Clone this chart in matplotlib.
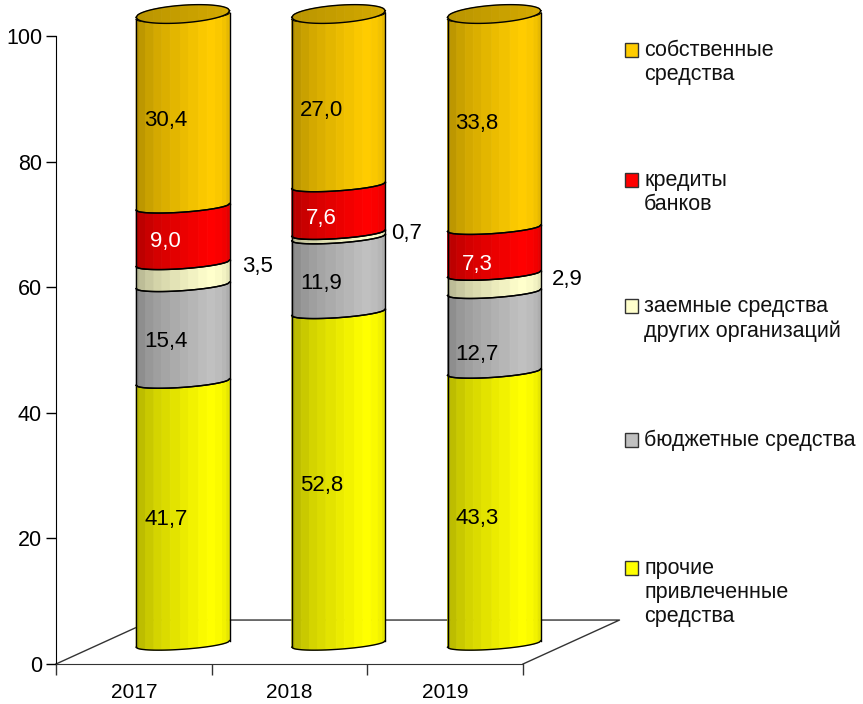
import matplotlib
matplotlib.use('Agg')
import matplotlib.pyplot as plt
import numpy as np
from matplotlib.patches import Rectangle

plt.rcParams['font.family'] = ['Liberation Sans', 'DejaVu Sans']

years = ['2017', '2018', '2019']
other = [41.7, 52.8, 43.3]
budget = [15.4, 11.9, 12.7]
loans_org = [3.5, 0.7, 2.9]
credits = [9.0, 7.6, 7.3]
own = [30.4, 27.0, 33.8]

value_labels = [['41,7', '52,8', '43,3'],
                ['15,4', '11,9', '12,7'],
                ['3,5', '0,7', '2,9'],
                ['9,0', '7,6', '7,3'],
                ['30,4', '27,0', '33,8']]

series = [other, budget, loans_org, credits, own]
colors = ['#FFFF00', '#C0C0C0', '#FFFFCC', '#FF0000', '#FFCC00']
label_colors = ['black', 'black', 'black', 'white', 'black']
legend_text = ['прочие\nпривлеченные\nсредства', 'бюджетные средства',
               'заемные средства\nдругих организаций', 'кредиты\nбанков',
               'собственные\nсредства']
legend_y = [568, 440, 306, 180, 50]

# label nudges in px (right, down), the original labels are not quite centered
label_nudge = [[(0, 1), (0, 2), (0, 5)],
               [(0, 2), (0, 3), (0, 17)],
               [(75, -7.5), (68, -2), (73, -4)],
               [(0, 1), (0, 4), (0, 8)],
               [(0, 3), (0, 4), (0, -4)]]

# cylinder geometry in data units (1 x unit = 156 px, 1 y unit = 6.28 px)
half_w = 0.30
shift_x = 0.315
shift_y = 3.2
tilt = 0.52
ell_b = 0.85
top_b = 1.4
band_edges = np.array([-1, -0.93, -0.8, -0.62, -0.45, -0.27, -0.05, 0.12, 0.34, 0.52, 0.7, 0.85, 0.94, 1])
band_shade = [0.70, 0.74, 0.79, 0.83, 0.86, 0.89, 0.92, 0.95, 0.98, 1.0, 0.98, 0.95, 0.90]


def edge_y(u, level, b=ell_b, sign=-1):
    return level + tilt*u + sign*b*np.sqrt(np.clip(1 - u**2, 0, 1))


def shaded(color, f):
    return tuple(np.array(matplotlib.colors.to_rgb(color))*f)


def draw_segment(ax, cx, low, high, color):
    for i in range(len(band_shade)):
        u = np.linspace(band_edges[i], band_edges[i+1], 6)
        x = cx + half_w*u
        xs = np.r_[x, x[::-1]]
        ys = np.r_[edge_y(u, low), edge_y(u, high)[::-1]]
        fc = shaded(color, band_shade[i])
        ax.fill(xs, ys, facecolor=fc, edgecolor=fc, lw=0.6, clip_on=False, zorder=3)
    u = np.linspace(-1, 1, 60)
    x = cx + half_w*u
    ax.plot(x, edge_y(u, low), color='black', lw=1, clip_on=False, zorder=4)
    ax.plot(x, edge_y(u, high), color='black', lw=1, clip_on=False, zorder=4)
    ax.plot([x[0], x[0]], [edge_y(u, low)[0], edge_y(u, high)[0]], color='black', lw=1,
            clip_on=False, zorder=4)
    ax.plot([x[-1], x[-1]], [edge_y(u, low)[-1], edge_y(u, high)[-1]], color='black', lw=1,
            clip_on=False, zorder=4)


def draw_top(ax, cx, level, color):
    for i in range(len(band_shade)):
        u = np.linspace(band_edges[i], band_edges[i+1], 6)
        x = cx + half_w*u
        xs = np.r_[x, x[::-1]]
        ys = np.r_[edge_y(u, level, top_b), edge_y(u, level, top_b, 1)[::-1]]
        fc = shaded(color, 0.72 + 0.12*(i/12))
        ax.fill(xs, ys, facecolor=fc, edgecolor=fc, lw=0.6, clip_on=False, zorder=4.5)
    u = np.linspace(-1, 1, 60)
    x = cx + half_w*u
    ax.plot(x, edge_y(u, level, top_b), color='black', lw=1, clip_on=False, zorder=4.6)
    ax.plot(x, edge_y(u, level, top_b, 1), color='black', lw=1, clip_on=False, zorder=4.6)


fig = plt.figure(figsize=(8.63, 7.04), dpi=100)
ax = fig.add_axes([56/863, 40/704, 467/863, 628/704])
ax.set_xlim(0, 3)
ax.set_ylim(0, 100)

# floor of the 3d box
ax.plot([0, 0.62, 3.62, 3], [0, 7, 7, 0], color='#333333', lw=1, clip_on=False, zorder=1)

for i in range(len(years)):
    cx = i + 0.5 + shift_x
    level = shift_y
    for j in range(len(series)):
        v = series[j][i]
        draw_segment(ax, cx, level, level + v, colors[j])
        dx, dy = label_nudge[j][i]
        if j != 2:
            dx = -17
        ax.annotate(value_labels[j][i], (cx, level + v/2 - (0 if j == 2 else 0.9)),
                    xytext=(dx*0.72, -dy*0.72), textcoords='offset points',
                    ha='center', va='center', fontsize=16, color=label_colors[j], zorder=5,
                    annotation_clip=False)
        level += v
    draw_top(ax, cx, level + 0.3, colors[-1])

for s in ['top', 'right']:
    ax.spines[s].set_visible(False)
ax.spines['bottom'].set_color('#333333')

ax.set_yticks(range(0, 101, 20))
ax.set_xticks([0, 1, 2, 3])
ax.set_xticklabels([])
ax.set_xticks([0.5, 1.5, 2.5], minor=True)
ax.set_xticklabels(years, minor=True)
ax.tick_params(axis='x', which='major', length=8, width=1, color='#333333')
ax.tick_params(axis='x', which='minor', length=0, pad=14, labelsize=15)
ax.tick_params(axis='y', length=7.5, width=1, pad=2.5, labelsize=15.5)

# legend, placed by hand like in the original
for i in range(len(legend_text)):
    y = legend_y[i]
    fig.add_artist(Rectangle((625/863, 1 - (y + 7)/704), 13/863, 14/704, transform=fig.transFigure,
                             facecolor=colors[i], edgecolor='#333333', lw=1))
    fig.text(644/863, 1 - (y - 10)/704, legend_text[i], fontsize=15.5, va='top', ha='left',
             linespacing=1.2, color='#111111')

fig.savefig('out.png', dpi=100)
